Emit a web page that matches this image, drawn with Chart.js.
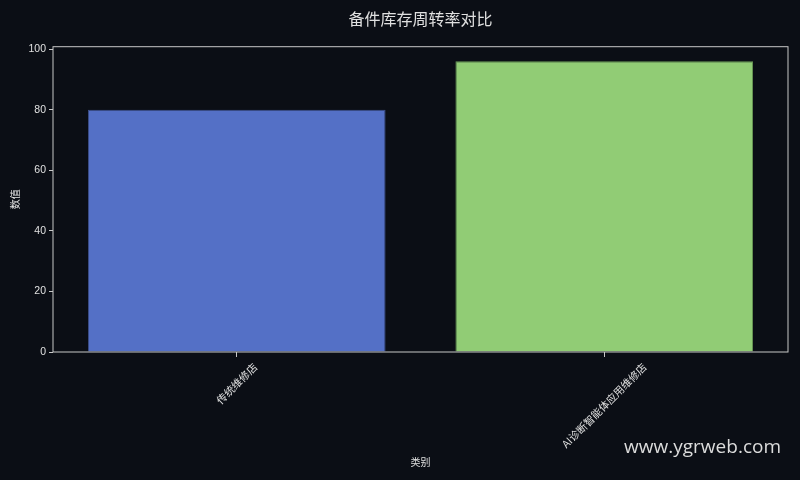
<!DOCTYPE html>
<html>
<head>
<meta charset="utf-8">
<script src="https://cdn.jsdelivr.net/npm/chart.js@4/dist/chart.umd.min.js"></script>
<style>
  html, body { margin: 0; padding: 0; background: #0b0e15; }
  #wrap { width: 800px; height: 480px; position: relative; }
</style>
</head>
<body>
<div id="wrap"><canvas id="chart"></canvas></div>
<script>
const categories = ["传统维修店", "AI诊断智能体应用维修店"];
const values = [80, 96];
const barColors = ["#5470c6", "#91cc75"];
const barEdges = ["#3d4f8a", "#6a9a55"];
const yTicks = [0, 20, 40, 60, 80, 100];

const FONT = "'Liberation Sans', 'Noto Sans CJK SC', sans-serif";
const CJK = "'Noto Sans CJK SC', 'Liberation Sans', sans-serif";
const frameColor = "#c8c8c8";
const textColor = "#e0e0e0";

// frame round the plot, rotated x labels, watermark
const extras = {
  id: "extras",
  afterDraw(chart) {
    const { ctx, chartArea: a, scales } = chart;
    ctx.save();
    ctx.strokeStyle = frameColor;
    ctx.lineWidth = 1;
    ctx.strokeRect(a.left, a.top, a.right - a.left, a.bottom - a.top);

    ctx.fillStyle = textColor;
    ctx.font = "10.5px " + CJK;
    ctx.textAlign = "center";
    ctx.textBaseline = "middle";
    categories.forEach((c, i) => {
      const x = scales.x.getPixelForValue(i);
      const w = ctx.measureText(c).width;
      const d = (w / 2) * Math.SQRT1_2 + 4;
      ctx.save();
      ctx.translate(x, a.bottom + 9 + d);
      ctx.rotate(-Math.PI / 4);
      ctx.fillText(c, 0, 0);
      ctx.restore();
    });

    ctx.font = "19px 'Open Sans', 'Noto Sans', sans-serif";
    ctx.fillStyle = "#dcdcdc";
    ctx.textAlign = "right";
    ctx.fillText("www.ygrweb.com", 781, 448);
    ctx.restore();
  }
};

new Chart(document.getElementById("chart"), {
  type: "bar",
  data: {
    labels: categories,
    datasets: [{
      data: values,
      backgroundColor: barColors,
      borderColor: barEdges,
      borderWidth: 1,
      barPercentage: 0.81,
      categoryPercentage: 1
    }]
  },
  options: {
    responsive: true,
    maintainAspectRatio: false,
    animation: false,
    layout: { padding: { left: 0, right: 12, top: 0, bottom: 12 } },
    plugins: {
      legend: { display: false },
      tooltip: { enabled: false },
      title: {
        display: true,
        fullSize: false,
        text: "备件库存周转率对比",
        color: textColor,
        font: { family: CJK, size: 16, weight: "normal" },
        padding: { top: 9, bottom: 18.5 }
      }
    },
    scales: {
      x: {
        offset: true,
        grid: { display: true, drawOnChartArea: false, offset: false, color: frameColor, tickLength: 5 },
        border: { display: false },
        ticks: { display: false },
        title: { display: true, text: "类别", color: textColor, font: { family: CJK, size: 10 }, padding: 0 },
        afterFit: (s) => { s.height = 116; }
      },
      y: {
        min: 0,
        max: 100.8,
        grid: { display: true, drawOnChartArea: false, color: frameColor, tickLength: 4 },
        border: { display: false },
        ticks: { color: textColor, font: { family: FONT, size: 10.5 }, padding: 3 },
        afterBuildTicks: (s) => { s.ticks = yTicks.map(v => ({ value: v })); },
        title: { display: true, text: "数值", color: textColor, font: { family: CJK, size: 10 }, padding: { top: 9, bottom: 0 } },
        afterFit: (s) => { s.width = 53; }
      }
    }
  },
  plugins: [extras]
});
</script>
</body>
</html>
